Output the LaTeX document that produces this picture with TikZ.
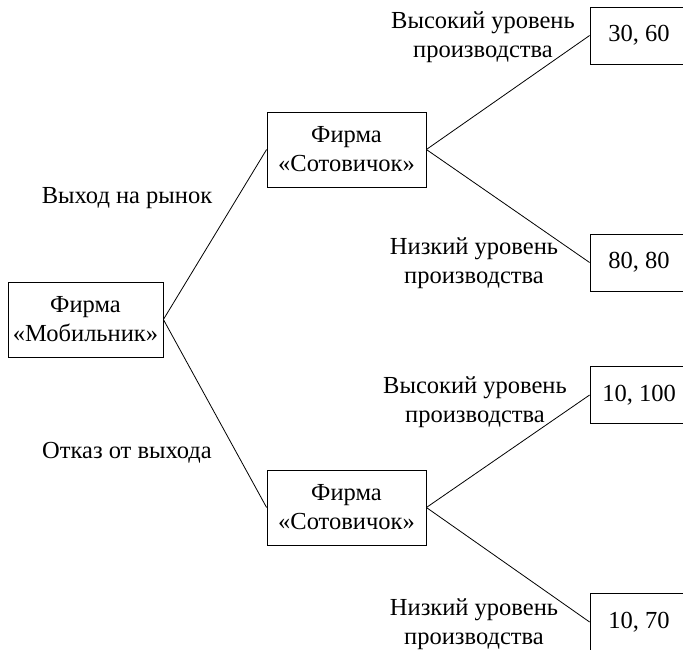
\documentclass[tikz,border=0pt]{standalone}
\usepackage{fontspec}
\setmainfont{Liberation Serif}
\begin{document}
\begin{tikzpicture}[x=1pt,y=-1pt,
  txt/.style={font=\fontsize{24.5}{29}\selectfont},
  box/.style={txt, draw, line width=0.8pt, inner sep=0pt, align=center},
  lbl/.style={txt, inner sep=0pt, align=center},
  edge/.style={line width=0.8pt}]
\useasboundingbox (0,0) rectangle (683,649);
\clip (0,0) rectangle (683,649);
% decision nodes
\node[box, minimum width=155pt, minimum height=75pt] (m) at (85.5,319.5) {Фирма\\«Мобильник»};
\node[box, minimum width=159pt, minimum height=75pt] (s1) at (346.5,149.5) {Фирма\\«Сотовичок»};
\node[box, minimum width=159pt, minimum height=75pt] (s2) at (346.5,507.5) {Фирма\\«Сотовичок»};
% payoff nodes
\node[box, minimum width=98pt, minimum height=57pt] (p1) at (639,35.5) {30, 60};
\node[box, minimum width=98pt, minimum height=57pt] (p2) at (639,262.5) {80, 80};
\node[box, minimum width=98pt, minimum height=57pt] (p3) at (639,395) {10, 100};
\node[box, minimum width=98pt, minimum height=58pt] (p4) at (639,622) {10, 70};
% connectors
\draw[edge] (m.east) -- (s1.west);
\draw[edge] (m.east) -- (s2.west);
\draw[edge] (s1.east) -- (p1.west);
\draw[edge] (s1.east) -- (p2.west);
\draw[edge] (s2.east) -- (p3.west);
\draw[edge] (s2.east) -- (p4.west);
% labels
\node[lbl] (l1) at (127,198) {Выход на рынок};
\node[lbl] (l2) at (127,453) {Отказ от выхода};
\node[lbl] (l3) at (483,37.5) {Высокий уровень\\производства};
\node[lbl] (l4) at (474,263.5) {Низкий уровень\\производства};
\node[lbl] (l5) at (475,402) {Высокий уровень\\производства};
\node[lbl] (l6) at (474,624) {Низкий уровень\\производства};
\end{tikzpicture}
\end{document}
